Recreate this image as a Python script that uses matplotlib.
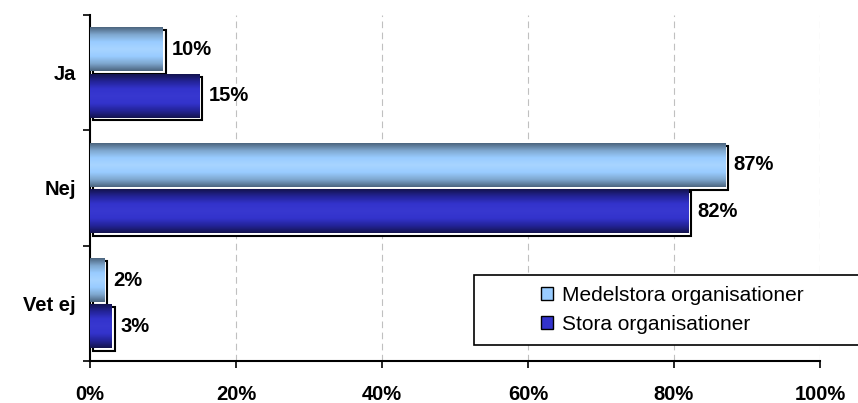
import numpy as np
import matplotlib.pyplot as plt
from matplotlib.patches import Rectangle, Patch
from matplotlib.colors import LinearSegmentedColormap
from matplotlib.transforms import ScaledTranslation

categories = ['Ja', 'Nej', 'Vet ej']
series = ['Medelstora organisationer', 'Stora organisationer']
medelstora = [10, 87, 2]
stora = [15, 82, 3]
xticks = [0, 20, 40, 60, 80, 100]

plt.rcParams['font.family'] = ['Liberation Sans', 'DejaVu Sans']

light = LinearSegmentedColormap.from_list('light', ['#4d6680', '#7fa8d0', '#99ccff', '#a8d4ff', '#99ccff', '#7fa8d0', '#4d6680'])
dark = LinearSegmentedColormap.from_list('dark', ['#141450', '#24249a', '#3333cc', '#3838d0', '#3333cc', '#24249a', '#141450'])

fig = plt.figure(figsize=(8.58, 4.03), dpi=100)
ax = fig.add_axes([0.1049, 0.104, 0.8508, 0.859])

h = 0.38
off = 0.2
grad = np.linspace(0, 1, 64).reshape(-1, 1)
shadow = ScaledTranslation(2/72, -2/72, fig.dpi_scale_trans)

for i, cat in enumerate(categories):
    for vals, cm, d in [(medelstora, light, -off), (stora, dark, off)]:
        v = vals[i]
        y0 = i + d - h/2
        y1 = i + d + h/2
        ax.add_patch(Rectangle((0, y0), v, h, facecolor='white', edgecolor='black',
                               lw=1.5, transform=ax.transData + shadow, zorder=2))
        ax.imshow(grad, extent=[0, v, y1, y0], aspect='auto', cmap=cm, zorder=3,
                  interpolation='bilinear')
        ax.text(v + 1.2, i + d, f'{v}%', va='center', ha='left', fontsize=14.5,
                fontweight='bold', zorder=4)

ax.set_xlim(0, 100)
ax.set_ylim(2.5, -0.5)
ax.set_xticks(xticks)
ax.set_xticklabels([f'{t}%' for t in xticks], fontsize=14.5, fontweight='bold')
ax.set_yticks(range(len(categories)))
ax.set_yticklabels(categories, fontsize=14.5, fontweight='bold')
ax.tick_params(axis='y', length=0, pad=10)
ax.set_yticks([-0.5, 0.5, 1.5, 2.5], minor=True)
ax.tick_params(axis='y', which='minor', length=5, width=1.2)
ax.tick_params(axis='x', length=5, width=1.2, pad=12)
for s in ['top', 'right']:
    ax.spines[s].set_visible(False)
ax.spines['left'].set_linewidth(1.5)
ax.spines['bottom'].set_linewidth(1.5)
for t in xticks[1:]:
    ax.axvline(t, color='#c0c0c0', lw=0.8, ls=(0, (6, 4)), zorder=1)

fig.patches.append(Rectangle((474/858, 58/403), 390/858, 70/403, transform=fig.transFigure,
                             facecolor='white', edgecolor='black', lw=1.2, zorder=5))
handles = [Patch(facecolor='#99ccff', edgecolor='black'), Patch(facecolor='#3333cc', edgecolor='black')]
leg = fig.legend(handles, series, loc='center left', bbox_to_anchor=(522/858, 93/403),
                 frameon=False, fontsize=15, handlelength=0.6, handleheight=0.6,
                 handletextpad=0.4, labelspacing=0.5)
leg.set_zorder(6)

fig.savefig('out.png', dpi=100)
